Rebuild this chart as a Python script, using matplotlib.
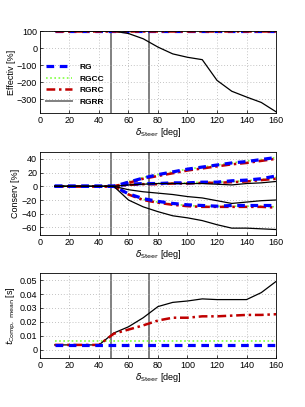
import numpy as np
import matplotlib
matplotlib.use('Agg')
import matplotlib.pyplot as plt

plt.rcParams['font.family'] = ['Liberation Sans', 'DejaVu Sans']
plt.rcParams['font.size'] = 6.5

## data ##
steer = [10, 20, 30, 40, 50, 60, 70, 80, 90, 100, 110, 120, 130, 140, 150, 160]
thresholds = [48, 74]

# effectiveness [%]
eff_rg = [100] * 16
eff_rgcc = [100] * 16
eff_rgrc = [100] * 16
eff_rgrr = [100, 100, 100, 100, 100, 86, 55, 6, -34, -54, -68, -190, -254, -288, -320, -375]

# conservativeness [%] - three curves per method
cons_rg = [
    [0, 0, 0, 0, 0, 6, 12, 17, 21, 25, 28, 31, 34, 36, 39, 42],
    [0, 0, 0, 0, 0, 3, 4, 4, 5, 5, 6, 6, 8, 9, 11, 15],
    [0, 0, 0, 0, 0, -11, -18, -22, -25, -27, -28, -29, -28, -28, -28, -28],
]
cons_rgcc = [
    [0, 0, 0, 0, 0, 7, 13, 17, 21, 25, 28, 31, 34, 37, 39, 42],
    [0, 0, 0, 0, 0, 3, 4, 4, 5, 5, 6, 6, 7, 8, 10, 13],
    [0, 0, 0, 0, 0, -11, -19, -23, -26, -28, -29, -29, -29, -29, -29, -30],
]
cons_rgrc = [
    [0, 0, 0, 0, 0, 5, 11, 15, 19, 23, 26, 29, 32, 34, 37, 40],
    [0, 0, 0, 0, 0, 2, 3, 3, 4, 4, 5, 5, 6, 7, 9, 11],
    [0, 0, 0, 0, 0, -12, -20, -24, -27, -29, -30, -30, -30, -30, -30, -31],
]
cons_rgrr = [
    [0, 0, 0, 0, 0, 2, 3, 4, 4, 4, 4, 3, 2, 4, 5, 7],
    [0, 0, 0, 0, 0, -5, -8, -10, -12, -15, -17, -21, -25, -23, -21, -20],
    [0, 0, 0, 0, 0, -20, -30, -37, -43, -46, -50, -56, -61, -61, -62, -63],
]

# mean computation time [s]
tc_rg = [0.0035] * 16
tc_rgcc = [0.0065] * 16
tc_rgrc = [0.0035, 0.0035, 0.0035, 0.0035, 0.0115, 0.0145, 0.0175, 0.021, 0.023, 0.023,
           0.024, 0.024, 0.0245, 0.025, 0.025, 0.0255]
tc_rgrr = [0.0035, 0.0035, 0.0035, 0.0035, 0.012, 0.0165, 0.023, 0.031, 0.034, 0.035,
           0.0365, 0.036, 0.036, 0.036, 0.041, 0.049]

## styles ##
blue = '#0000ff'
green = '#80ff40'
red = '#c00000'
grey = '#808080'
st_rg = dict(color=blue, ls=(0, (2.4, 1.75)), lw=2.3)
st_rgcc = dict(color=green, ls=(0, (1, 1.5)), lw=1.2)
st_rgrc = dict(color=red, ls=(0, (3.5, 1.5, 1, 1.5)), lw=1.8)
st_rgrr = dict(color='black', ls='-', lw=0.9)

fig = plt.figure(figsize=(3.05, 4.07), dpi=100)
left, width = 0.131, 0.774
ax1 = fig.add_axes([left, 0.722, width, 0.2015])
ax2 = fig.add_axes([left, 0.4226, width, 0.204])
ax3 = fig.add_axes([left, 0.120, width, 0.209])


def style_axis(ax):
    ax.set_xlim(0, 160)
    ax.set_xticks(range(0, 161, 20))
    ax.grid(True, ls=(0, (1, 2.5)), color='#b0b0b0', lw=0.6)
    ax.tick_params(direction='in', length=2.5, width=0.5, pad=2)
    for s in ax.spines.values():
        s.set_linewidth(0.6)
    ax.set_xlabel(r'$\delta_{\mathrm{Steer}}$ [deg]', labelpad=1)


def vlines(ax):
    hs = []
    for t in thresholds:
        hs.append(ax.axvline(t, color=grey, lw=1.4, zorder=1))
    return hs


## Effectiveness
l1, = ax1.plot(steer, eff_rg, **st_rg)
l2, = ax1.plot(steer, eff_rgcc, **st_rgcc)
l3, = ax1.plot(steer, eff_rgrc, **st_rgrc)
ax1.plot(steer, eff_rgrr, **st_rgrr)
vl = vlines(ax1)
ax1.set_ylim(-383, 100)
ax1.set_yticks([-300, -200, -100, 0, 100])
ax1.set_ylabel('Effectiv [%]', labelpad=1)
style_axis(ax1)
ax1.legend([l1, l2, l3, vl[0]], ['RG', 'RGCC', 'RGRC', 'RGRR'], loc='lower left',
           frameon=False, prop=dict(weight='bold', size=6), handlelength=3.2,
           labelspacing=0.45, borderaxespad=0.3, bbox_to_anchor=(0.0, 0.02))

## Conservativeness
for c in cons_rgcc:
    ax2.plot(steer, c, **st_rgcc)
for c in cons_rgrc:
    ax2.plot(steer, c, **st_rgrc)
for c in cons_rg:
    ax2.plot(steer, c, **st_rg)
for c in cons_rgrr:
    ax2.plot(steer, c, **st_rgrr)
vlines(ax2)
ax2.set_ylim(-71, 50)
ax2.set_yticks(range(-60, 41, 20))
ax2.set_ylabel('Conserv [%]', labelpad=1)
style_axis(ax2)

## Computation time
ax3.plot(steer, tc_rgcc, **st_rgcc)
ax3.plot(steer, tc_rgrr, **st_rgrr)
ax3.plot(steer, tc_rgrc, **st_rgrc)
ax3.plot(steer, tc_rg, **st_rg)
vlines(ax3)
ax3.set_ylim(-0.006, 0.055)
ax3.set_yticks([0, 0.01, 0.02, 0.03, 0.04, 0.05])
ax3.set_yticklabels(['0', '0.01', '0.02', '0.03', '0.04', '0.05'])
ax3.set_ylabel(r'$t_{\mathrm{Comp,\ mean}}$ [s]', labelpad=1)
style_axis(ax3)

fig.savefig('out.png', dpi=100)
